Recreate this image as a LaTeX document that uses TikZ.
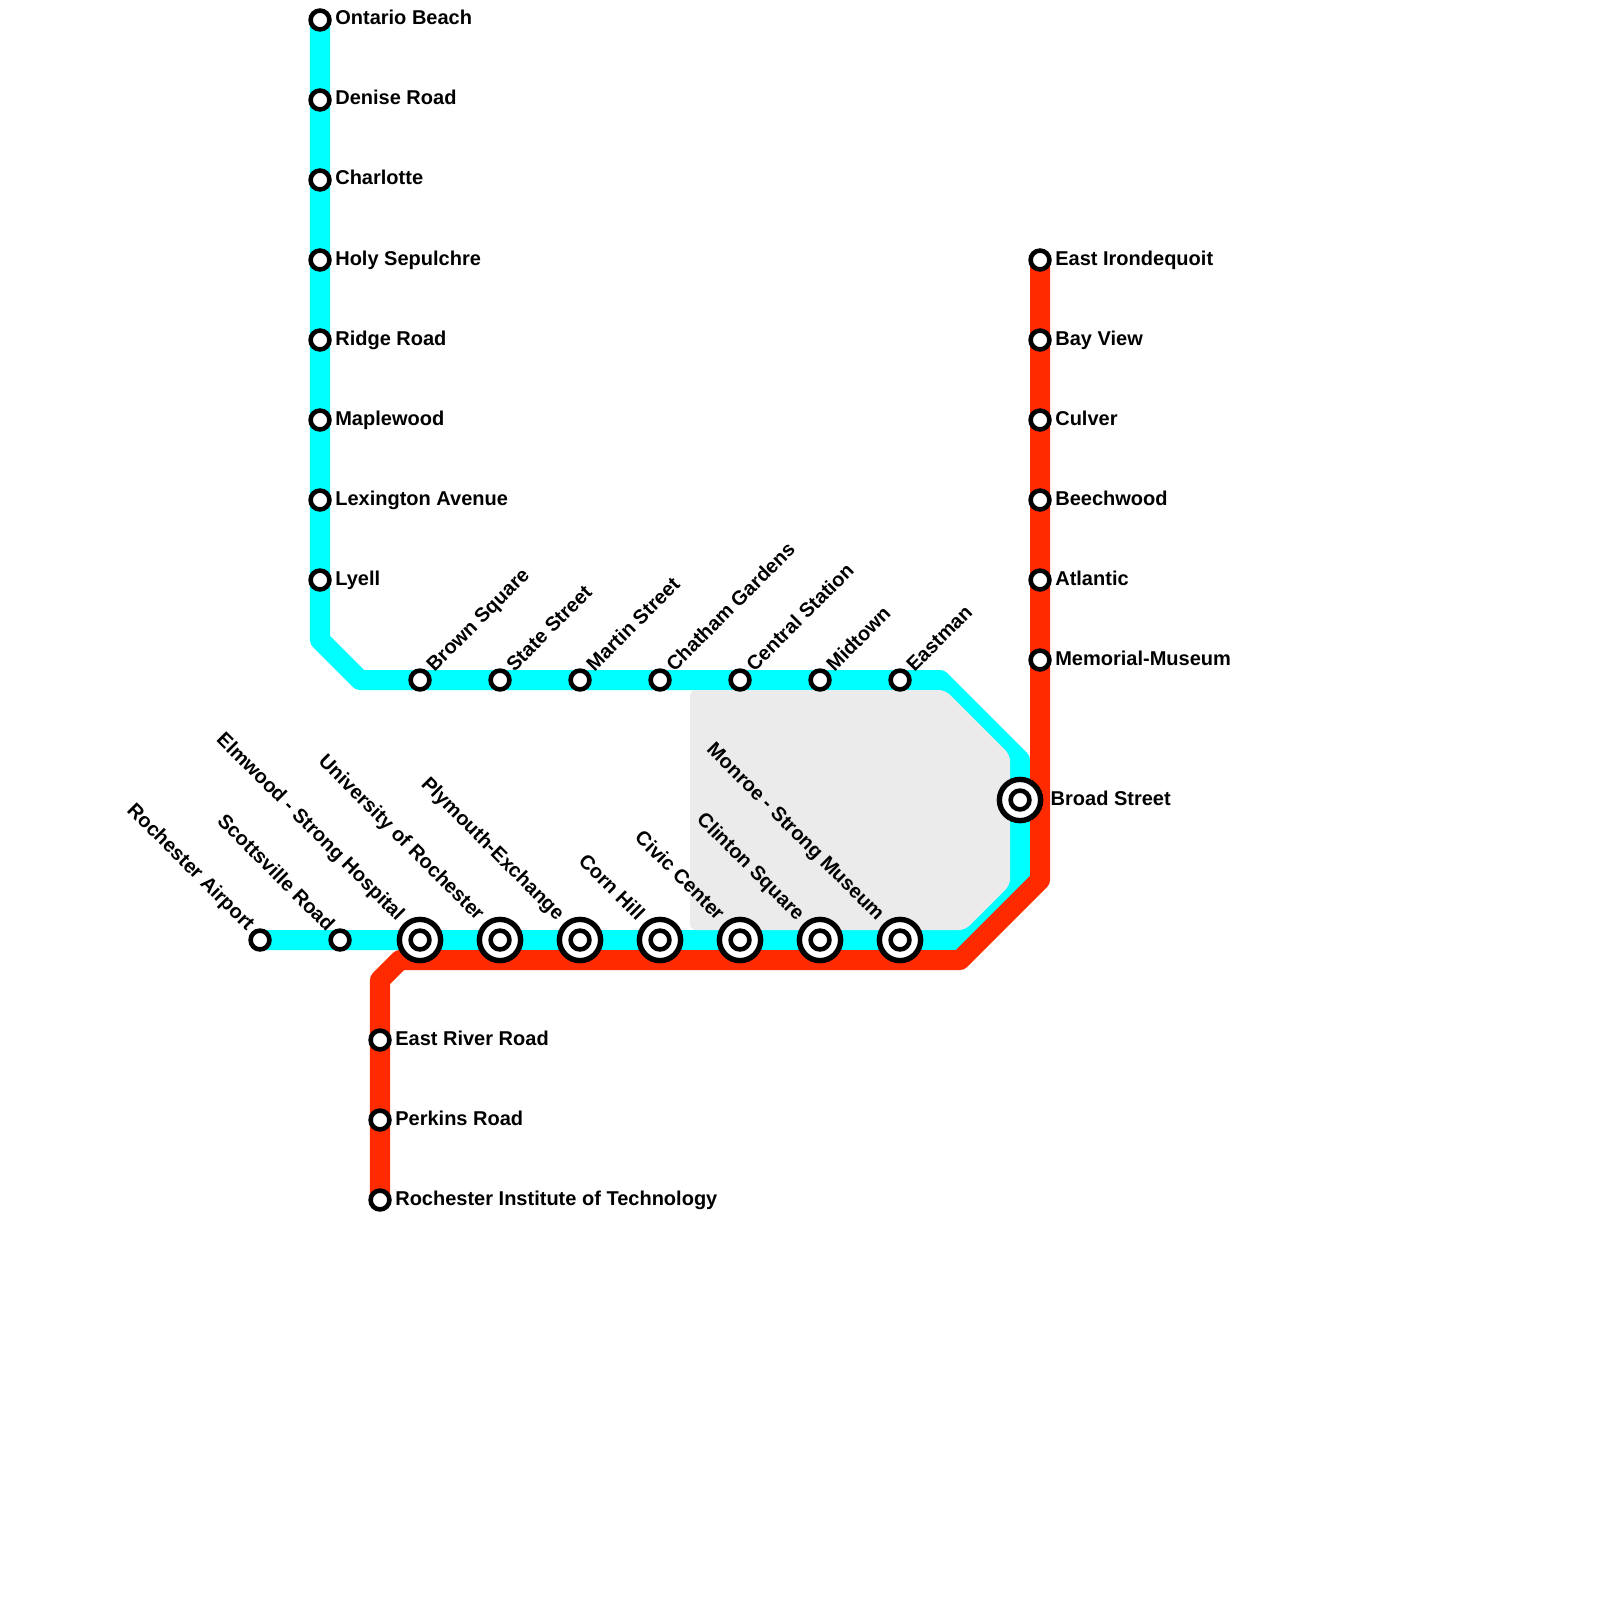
\documentclass[tikz,border=0pt]{standalone}
\usepackage{fontspec}
\setmainfont{Liberation Sans}
\definecolor{cy}{HTML}{00FFFF}
\definecolor{rd}{HTML}{FF2A00}
\definecolor{gy}{HTML}{EBEBEB}
\tikzset{
 x=0.01cm,y=-0.01cm,
 lineb/.style={line width=0.2cm,line join=round},
 stsmall/.style={circle,draw=black,fill=white,line width=0.046cm,outer sep=0pt,minimum size=0.188cm,inner sep=0pt},
 stbig/.style={circle,draw=black,fill=white,line width=0.054cm,outer sep=0pt,minimum size=0.412cm,inner sep=0pt},
 lab/.style={font=\fontsize{5.69pt}{6.5pt}\selectfont\bfseries,text=black,inner sep=0pt},
 labr/.style={lab,anchor=base west},
 labne/.style={lab,anchor=base west,rotate=45},
 labnw/.style={lab,anchor=base east,rotate=-45},
}
\newcommand{\sm}[4]{\node[stsmall] (#1) at (#2,#3) {};\node[labr] (#1l) at (#2+14.6,#3+5) {#4};}
\newcommand{\smne}[4]{\node[stsmall] (#1) at (#2,#3) {};\node[labne] (#1l) at (#2+14,#3-7) {#4};}
\newcommand{\bigst}[4]{\node[stbig] (#1) at (#2,#3) {};\node[stsmall] (#1d) at (#2,#3) {};\node[labnw] (#1l) at (#2-23,#3-18) {#4};}
\begin{document}
\begin{tikzpicture}
\useasboundingbox[fill=white] (0,0) rectangle (1600,1600);
\coordinate (c0) at (320,20);\coordinate (c1) at (320,640);\coordinate (c2) at (360,680);\coordinate (c3) at (940,680);\coordinate (c4) at (1020,760);\coordinate (c5) at (1020,880);\coordinate (c6) at (960,940);\coordinate (c7) at (260,940);
\draw[cy,lineb] (c0)--(c1)--(c2)--(c3)--(c4)--(c5)--(c6)--(c7);
\fill[gy,rounded corners=0.06cm] (690,690) -- (945,690) -- (1010,755) -- (1010,885) -- (965,930) -- (690,930) -- cycle;
\coordinate (r0) at (1040,260);\coordinate (r1) at (1040,880);\coordinate (r2) at (960,960);\coordinate (r3) at (400,960);\coordinate (r4) at (380,980);\coordinate (r5) at (380,1200);
\draw[rd,lineb] (r0)--(r1)--(r2)--(r3)--(r4)--(r5);
\sm{a}{320}{20}{Ontario Beach}
\sm{b}{320}{100}{Denise Road}
\sm{c}{320}{180}{Charlotte}
\sm{d}{320}{260}{Holy Sepulchre}
\sm{e}{320}{340}{Ridge Road}
\sm{f}{320}{420}{Maplewood}
\sm{g}{320}{500}{Lexington Avenue}
\sm{h}{320}{580}{Lyell}
\smne{i}{420}{680}{Brown Square}
\smne{j}{500}{680}{State Street}
\smne{k}{580}{680}{Martin Street}
\smne{l}{660}{680}{Chatham Gardens}
\smne{m}{740}{680}{Central Station}
\smne{n}{820}{680}{Midtown}
\smne{o}{900}{680}{Eastman}
\sm{p}{1040}{260}{East Irondequoit}
\sm{q}{1040}{340}{Bay View}
\sm{r}{1040}{420}{Culver}
\sm{s}{1040}{500}{Beechwood}
\sm{t}{1040}{580}{Atlantic}
\sm{u}{1040}{660}{Memorial-Museum}
\node[stbig] (v) at (1020,800) {};\node[stsmall] (vd) at (1020,800) {};\node[labr] (vl) at (1050,805) {Broad Street};
\node[stsmall] (w) at (260,940) {};\node[labnw] (wl) at (247,932) {Rochester Airport};
\node[stsmall] (x) at (340,940) {};\node[labnw] (xl) at (327,933) {Scottsville Road};
\bigst{y}{420}{940}{Elmwood - Strong Hospital}
\bigst{z}{500}{940}{University of Rochester}
\bigst{aa}{580}{940}{Plymouth-Exchange}
\bigst{ab}{660}{940}{Corn Hill}
\bigst{ac}{740}{940}{Civic Center}
\bigst{ad}{820}{940}{Clinton Square}
\bigst{ae}{900}{940}{Monroe - Strong Museum}
\sm{af}{380}{1040}{East River Road}
\sm{ag}{380}{1120}{Perkins Road}
\sm{ah}{380}{1200}{Rochester Institute of Technology}
\end{tikzpicture}
\end{document}
